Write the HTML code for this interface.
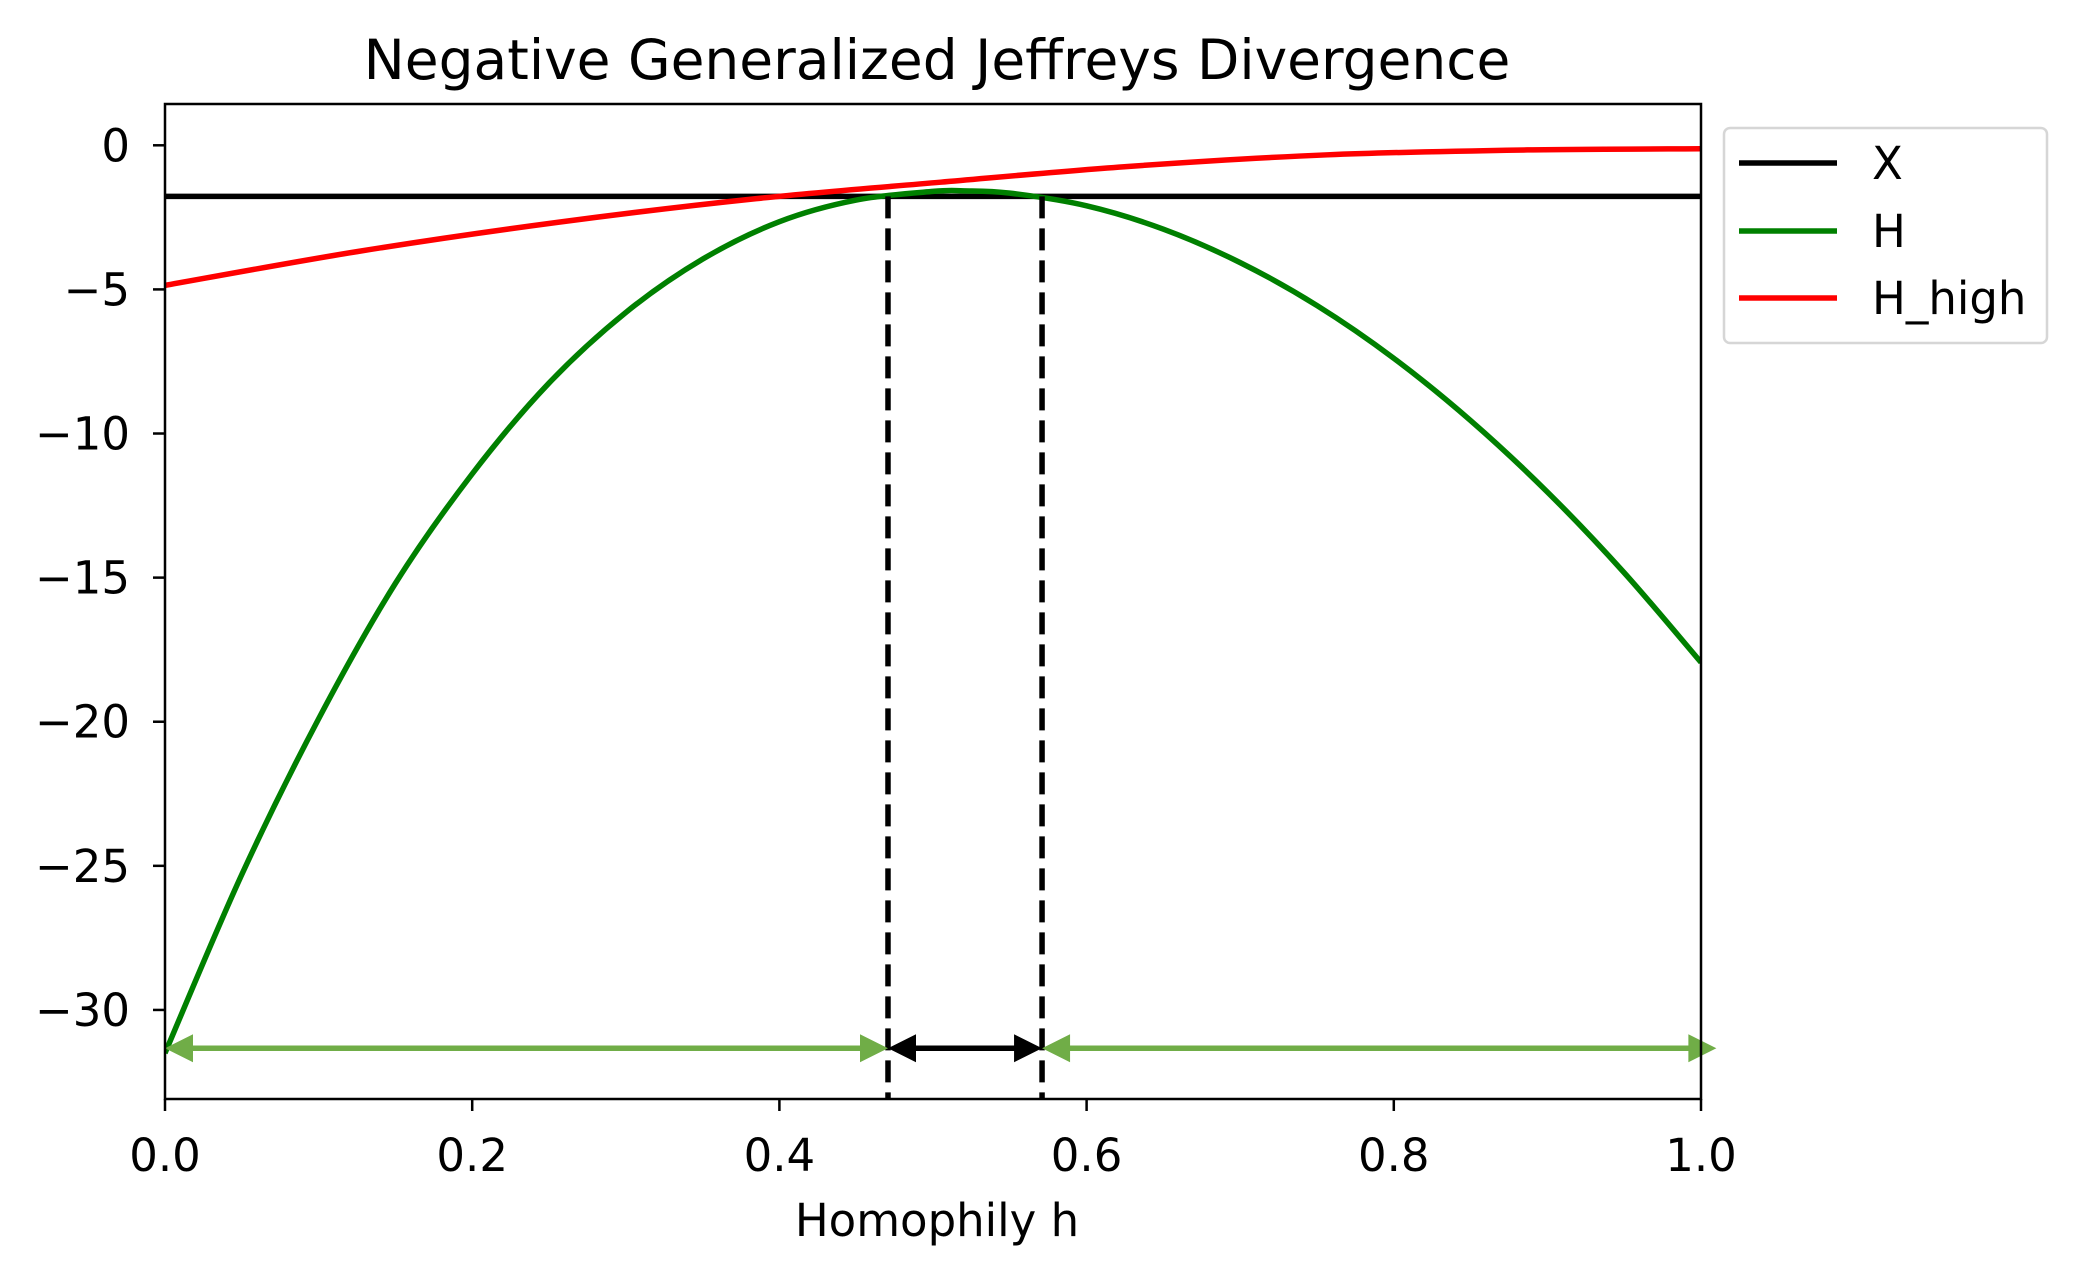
<!DOCTYPE html>
<html>
<head>
<meta charset="utf-8">
<style>
html,body{margin:0;padding:0;background:#fff;}
svg{display:block;font-family:"DejaVu Sans","Liberation Sans",sans-serif;}
</style>
</head>
<body>
<svg id="chart" width="2080" height="1274" viewBox="0 0 2080 1274" xmlns="http://www.w3.org/2000/svg">
  <rect width="2080" height="1274" fill="#fff"/>
  <text x="937" y="79" font-size="55" text-anchor="middle">Negative Generalized Jeffreys Divergence</text>
  <text x="937" y="1236" font-size="45" text-anchor="middle">Homophily h</text>
  <g id="plot"></g>
  <g id="axes"></g>
  <g id="legend"></g>
</svg>
<script>
const xTicks = [0.0, 0.2, 0.4, 0.6, 0.8, 1.0];
const xTickLabels = ["0.0", "0.2", "0.4", "0.6", "0.8", "1.0"];
const yTicks = [0, -5, -10, -15, -20, -25, -30];
const yTickLabels = ["0", "\u22125", "\u221210", "\u221215", "\u221220", "\u221225", "\u221230"];
const hH = [0, 0.05, 0.1, 0.15, 0.2, 0.25, 0.3, 0.35, 0.4, 0.45, 0.5, 0.52, 0.55, 0.6, 0.65, 0.7, 0.75, 0.8, 0.85, 0.9, 0.95, 1.0];
const vH = [-31.5, -25.3, -19.9, -15.2, -11.4, -8.25, -5.8, -3.95, -2.65, -1.9, -1.6, -1.58, -1.66, -2.10, -2.91, -4.07, -5.56, -7.39, -9.55, -12.03, -14.83, -17.94];
const hHigh = [0, 0.126, 0.256, 0.385, 0.505, 0.628, 0.757, 0.887, 1.0];
const vHigh = [-4.86, -3.68, -2.67, -1.85, -1.28, -0.73, -0.33, -0.16, -0.12];
const xLevel = [-1.77];
const bounds = [0.4707, 0.571];
const arrowLevel = [-31.33];

const NS = "http://www.w3.org/2000/svg";
const L = 165, R = 1701, T = 104, B = 1099;
const xMin = 0, xMax = 1, yMin = -33.09, yMax = 1.433;
const sx = v => L + (v - xMin) / (xMax - xMin) * (R - L);
const sy = v => B - (v - yMin) / (yMax - yMin) * (B - T);

function mk(tag, attrs, parent) {
  const el = document.createElementNS(NS, tag);
  for (const k in attrs) el.setAttribute(k, attrs[k]);
  parent.appendChild(el);
  return el;
}
function smoothPath(xs, ys) {
  const p = xs.map((x, i) => [sx(x), sy(ys[i])]);
  let d = "M" + p[0][0] + "," + p[0][1];
  for (let i = 0; i < p.length - 1; i++) {
    const p0 = p[Math.max(0, i - 1)], p1 = p[i], p2 = p[i + 1], p3 = p[Math.min(p.length - 1, i + 2)];
    const c1 = [p1[0] + (p2[0] - p0[0]) / 6, p1[1] + (p2[1] - p0[1]) / 6];
    const c2 = [p2[0] - (p3[0] - p1[0]) / 6, p2[1] - (p3[1] - p1[1]) / 6];
    d += " C" + c1 + " " + c2 + " " + p2;
  }
  return d;
}
const plot = document.getElementById("plot");
const axes = document.getElementById("axes");
const legend = document.getElementById("legend");

const clip = mk("clipPath", {id: "clip"}, plot);
mk("rect", {x: L, y: T, width: R - L, height: B - T}, clip);
const inner = mk("g", {"clip-path": "url(#clip)"}, plot);

const xl = mk("line", {x1: L, x2: R, y1: sy(xLevel[0]), y2: sy(xLevel[0]), stroke: "#000", "stroke-width": 5.5}, inner);



const gH = mk("path", {d: smoothPath(hH, vH), fill: "none", stroke: "#008000", "stroke-width": 5.5}, inner);



const rH = mk("path", {d: smoothPath(hHigh, vHigh), fill: "none", stroke: "#ff0000", "stroke-width": 5.5}, inner);



bounds.forEach((b, i) => {
  const dl = mk("line", {x1: sx(b), x2: sx(b), y1: sy(xLevel[0]), y2: B, stroke: "#000", "stroke-width": 5.5, "stroke-dasharray": "22 10"}, plot);
  
  
});

function dArrow(x1, x2, color, name) {
  const y = sy(arrowLevel[0]);
  const a = sx(x1), b = sx(x2);
  const g = mk("g", {}, plot);
  
  
  mk("line", {x1: a + 20, x2: b - 20, y1: y, y2: y, stroke: color, "stroke-width": 5.5}, g);
  mk("polygon", {points: `${a},${y} ${a + 28},${y - 14} ${a + 28},${y + 14}`, fill: color}, g);
  mk("polygon", {points: `${b},${y} ${b - 28},${y - 14} ${b - 28},${y + 14}`, fill: color}, g);
}
dArrow(0, bounds[0], "#70ad47", "left-range-arrow");
dArrow(bounds[0], bounds[1], "#000", "middle-range-arrow");
dArrow(bounds[1], 1.01, "#70ad47", "right-range-arrow");

const frame = mk("rect", {x: L, y: T, width: R - L, height: B - T, fill: "none", stroke: "#000", "stroke-width": 2.5}, axes);



xTicks.forEach((t, i) => {
  const x = sx(t);
  const tk = mk("line", {x1: x, x2: x, y1: B, y2: B + 12, stroke: "#000", "stroke-width": 2.5}, axes);
  
  
  const tl = mk("text", {x: x, y: 1171, "font-size": 45, "text-anchor": "middle"}, axes);
  tl.textContent = xTickLabels[i];
  
  
});
yTicks.forEach((t, i) => {
  const y = sy(t);
  const tk = mk("line", {x1: L - 12, x2: L, y1: y, y2: y, stroke: "#000", "stroke-width": 2.5}, axes);
  
  
  const tl = mk("text", {x: 130, y: y + 16, "font-size": 45, "text-anchor": "end"}, axes);
  tl.textContent = yTickLabels[i];
  
  
});

const lbox = mk("rect", {x: 1724, y: 128, width: 323, height: 215, rx: 6, fill: "#fff", stroke: "#d6d6d6", "stroke-width": 2.5}, legend);


const legItems = [["X", "#000", 163], ["H", "#008000", 231], ["H_high", "#ff0000", 298]];
legItems.forEach(([lab, col, y]) => {
  const g = mk("g", {}, legend);
  
  
  mk("line", {x1: 1739, x2: 1837, y1: y, y2: y, stroke: col, "stroke-width": 5.5}, g);
  const t = mk("text", {x: 1872, y: y + 16, "font-size": 45}, g);
  t.textContent = lab;
});
</script>
</body>
</html>
